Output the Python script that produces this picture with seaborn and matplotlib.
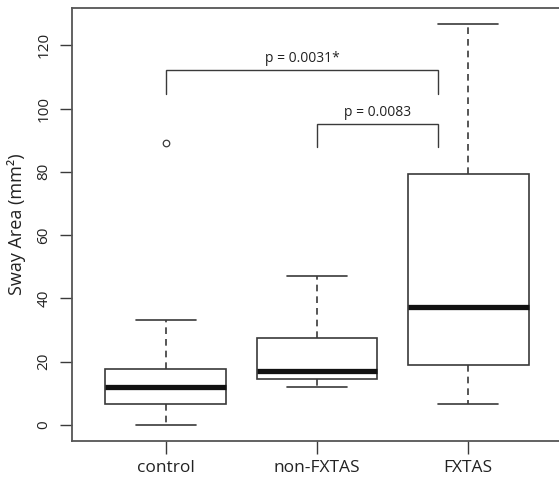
import matplotlib
matplotlib.use('Agg')

import matplotlib.pyplot as plt
import numpy as np
import pandas as pd
import seaborn as sns

# five-number summaries (min, q1, median, q3, max of whiskers)
groups = ['control', 'non-FXTAS', 'FXTAS']
lows = [0.0, 12.1, 6.7]
q1s = [6.7, 14.5, 18.8]
medians = [12.1, 16.9, 37.3]
q3s = [17.8, 27.6, 79.2]
highs = [33.1, 47.1, 126.7]

outlier_groups = ['control']
outlier_values = [89.1]

# significance brackets: (left group idx, right pos, bar height, leg bottom, label)
bracket_left = [0, 1]
bracket_right = [1.8, 1.8]
bracket_top = [112.1, 95.2]
bracket_bottom = [104.7, 87.8]
bracket_labels = ['p = 0.0031*', 'p = 0.0083']

rows = []
for g, lo, a, m, b, hi in zip(groups, lows, q1s, medians, q3s, highs):
    for v in (lo, a, m, b, hi):
        rows.append({'group': g, 'area': v})
df = pd.DataFrame(rows)
df_out = pd.DataFrame({'group': outlier_groups, 'area': outlier_values})

sns.set_style('white')
plt.rcParams['font.family'] = ['Open Sans', 'DejaVu Sans']

edge = '#3a3a3a'
fig = plt.figure(figsize=(5.59, 4.8), dpi=100)
ax = fig.add_axes([72 / 559, 39 / 480, 490 / 559, 433 / 480])

sns.boxplot(
    data=df, x='group', y='area', order=groups, ax=ax,
    width=0.8, whis=(0, 100), showfliers=False,
    color='white', linecolor=edge, linewidth=1.2,
    boxprops=dict(facecolor='white', edgecolor=edge),
    whiskerprops=dict(linestyle=(0, (4, 3)), color=edge),
    capprops=dict(color=edge),
    medianprops=dict(color='#111111', linewidth=3.8),
)
sns.scatterplot(
    data=df_out, x='group', y='area', ax=ax,
    marker='o', s=22, facecolor='white', edgecolor=edge, linewidth=0.9,
    zorder=5,
)

for left, right, top, bot, lab in zip(bracket_left, bracket_right, bracket_top,
                                      bracket_bottom, bracket_labels):
    ax.plot([left, left, right, right], [bot, top, top, bot],
            color=edge, lw=1.0, solid_joinstyle='miter')
    ax.text((left + right) / 2, top + 1.2, lab, ha='center', va='bottom',
            fontsize=10, color='#222222')

ymin = min(lows)
ymax = max(highs)
pad = 0.04 * (ymax - ymin)
ax.set_ylim(ymin - pad, ymax + pad)
ax.set_xlim(-0.62, 2.62)

ax.set_yticks(np.arange(0, 121, 20))
ax.set_yticklabels([str(v) for v in range(0, 121, 20)], rotation=90, va='center',
                   fontsize=11, color='#222222')
ax.set_xticks(range(len(groups)))
ax.set_xticklabels(groups, fontsize=12.5, color='#222222')
ax.tick_params(axis='both', direction='out', length=9, width=1.0, color=edge,
               left=True, bottom=True)
ax.tick_params(axis='x', pad=5)
ax.tick_params(axis='y', pad=6)

ax.set_xlabel('')
ax.set_ylabel('Sway Area (mm²)', fontsize=13, color='#222222', labelpad=7)

for side in ['left', 'bottom', 'top', 'right']:
    ax.spines[side].set_visible(True)
    ax.spines[side].set_color('#555555')
    ax.spines[side].set_linewidth(1.3)

plt.savefig('out.png', dpi=100)
plt.close()
